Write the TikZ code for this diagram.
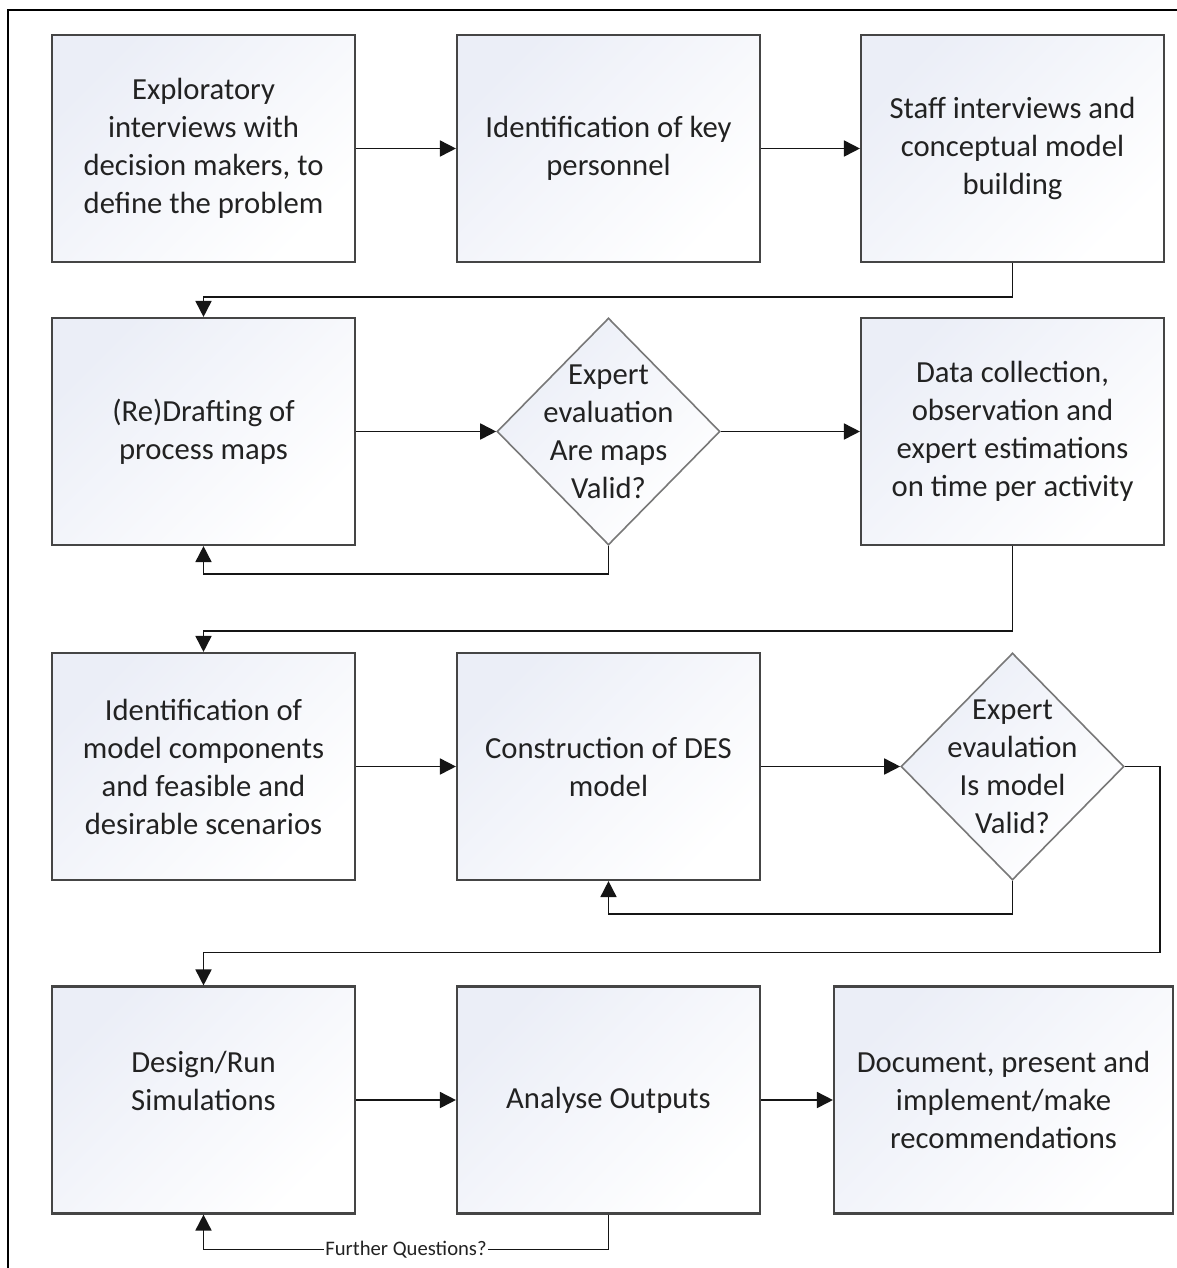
\documentclass[tikz,border=0pt]{standalone}
\usepackage{fontspec}
\setmainfont{Carlito}
\usetikzlibrary{shapes.geometric,arrows.meta}

\definecolor{boxtop}{HTML}{EBEEF7}
\definecolor{boxline}{HTML}{454545}
\definecolor{decline}{HTML}{787878}
\definecolor{inktext}{HTML}{222222}
\definecolor{connline}{HTML}{151515}

\tikzset{
  stepbox/.style={draw=boxline, line width=1.6pt, rectangle,
    minimum width=227.25pt, minimum height=170.25pt, inner sep=0pt,
    top color=boxtop, bottom color=white, shading angle=45,
    text=inktext, align=center,
    font=\fontsize{23}{28.5}\selectfont},
  widebox/.style={stepbox, minimum width=254.25pt},
  decision/.style={draw=decline, line width=1.2pt, diamond, aspect=1,
    minimum width=167.25pt, minimum height=170.25pt, inner sep=0pt,
    top color=boxtop, bottom color=white, shading angle=45},
  dtext/.style={text=inktext, align=center, inner sep=0pt,
    font=\fontsize{23}{28.5}\selectfont},
  conn/.style={draw=connline, line width=1.3pt,
    -{Triangle[length=12pt,width=12pt]}},
  flabel/.style={fill=white, text=inktext, inner sep=1pt,
    font=\fontsize{15.5}{17}\selectfont},
  frame/.style={draw=black, line width=1.4pt}
}

\begin{document}
\begin{tikzpicture}[x=0.75pt,y=-0.75pt]
  \useasboundingbox (0,0) rectangle (1177,1268);
  \path[fill=white] (0,0) rectangle (1177,1268);

  % outer frame (top and left edges)
  \draw[frame] (1177,10) -- (8,10) -- (8,1268);

  % row 1
  \node[stepbox] (a) at (203.5,148.5) {Exploratory\\interviews with\\decision makers, to\\define the problem};
  \node[stepbox] (b) at (608.5,148.5) {Identification of key\\personnel};
  \node[stepbox] (c) at (1012.5,148.5) {Staff interviews and\\conceptual model\\building};

  % row 2
  \node[stepbox] (d) at (203.5,431.5) {(Re)Drafting of\\process maps};
  \node[decision] (e) at (608.5,431.5) {};
  \node[dtext] (et) at (e) {Expert\\evaluation\\Are maps\\Valid?};
  \node[stepbox] (f) at (1012.5,431.5) {Data collection,\\observation and\\expert estimations\\on time per activity};

  % row 3
  \node[stepbox] (g) at (203.5,766.5) {Identification of\\model components\\and feasible and\\desirable scenarios};
  \node[stepbox] (h) at (608.5,766.5) {Construction of DES\\model};
  \node[decision] (i) at (1012.5,766.5) {};
  \node[dtext] (it) at (i) {Expert\\evaulation\\Is model\\Valid?};

  % row 4
  \node[stepbox] (j) at (203.5,1100) {Design/Run\\Simulations\\\mbox{}};
  \node[stepbox] (k) at (608.5,1100) {Analyse Outputs};
  \node[widebox] (l) at (1003.5,1100) {Document, present and\\implement/make\\recommendations};

  % connectors
  \draw[conn] (a) -- (b);
  \draw[conn] (b) -- (c);
  \draw[conn] (c.south) -- ++(0,34) -| (d.north);
  \draw[conn] (d) -- (e);
  \draw[conn] (e) -- (f);
  \draw[conn] (e.south) -- ++(0,28) -| (d.south);
  \draw[conn] (f.south) -- ++(0,85) -| (g.north);
  \draw[conn] (g) -- (h);
  \draw[conn] (h) -- (i);
  \draw[conn] (i.south) -- ++(0,33) -| (h.south);
  \draw[conn] (i.east) -| ++(35,186) -| (j.north);
  \draw[conn] (j) -- (k);
  \draw[conn] (k) -- (l);
  \draw[conn] (k.south) -- ++(0,35) -| node[pos=0.25, flabel] {Further Questions?} (j.south);
\end{tikzpicture}
\end{document}
